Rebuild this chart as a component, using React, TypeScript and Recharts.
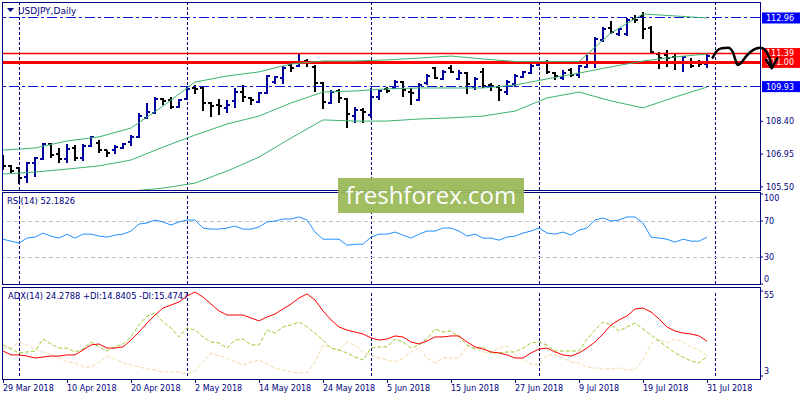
import React from "react";
import { ComposedChart, Bar, Line, XAxis, YAxis, ReferenceLine } from "recharts";

const NAVY = "#000080";
const FONT = "DejaVu Sans, sans-serif";
const UP = "#00009c";
const DOWN = "#000000";
const X_MAX = 94.625; // bar slots up to the price scale
const PRICE_MIN = 105.366;
const PRICE_MAX = 113.666;

// daily OHLC, USDJPY, 29 Mar 2018 .. 31 Jul 2018
const opens = [
  106.82, 106.43, 106.34, 105.94, 106.56, 106.73, 107.4, 106.96, 106.73, 107.22,
  106.78, 107.31, 107.44, 107.13, 107.13, 107.22, 107.49, 107.71, 108.55, 108.77,
  109.38, 109.34, 109.03, 109.38, 109.87, 109.87, 109.21, 109.12, 108.99, 109.3,
  109.69, 109.43, 109.25, 109.65, 110.13, 110.31, 110.88, 110.84, 111.06, 110.8,
  110.09, 109.21, 109.74, 109.38, 108.63, 108.9, 108.68, 109.47, 109.83, 109.87,
  110.13, 109.69, 109.34, 110.09, 110.75, 110.27, 110.75, 110.27, 110.53, 109.91,
  110.58, 110.0, 109.91, 109.69, 110.05, 110.36, 110.53, 110.88, 110.97, 110.53,
  110.31, 110.66, 110.44, 110.8, 110.97, 111.99, 112.52, 112.25, 112.25, 112.92,
  113.05, 112.52, 111.37, 111.33, 111.24, 110.97, 111.02, 111.02, 110.93,
];
const highs = [
  106.91, 106.47, 106.38, 106.6, 106.82, 107.44, 107.44, 107.22, 107.4, 107.35,
  107.4, 107.75, 107.57, 107.13, 107.35, 107.44, 107.79, 108.77, 109.21, 109.47,
  109.43, 109.47, 109.38, 109.96, 110.0, 109.92, 109.25, 109.38, 109.34, 109.87,
  110.0, 109.47, 109.69, 110.44, 110.4, 110.84, 110.93, 111.37, 111.15, 110.88,
  110.13, 109.78, 109.83, 109.43, 109.03, 108.99, 109.87, 109.78, 109.91, 110.22,
  110.18, 109.87, 110.09, 110.49, 110.8, 110.66, 110.88, 110.66, 110.58, 110.36,
  110.75, 110.09, 110.0, 110.22, 110.49, 110.62, 110.93, 111.02, 111.11, 110.58,
  110.66, 110.75, 110.88, 111.33, 112.12, 112.56, 112.83, 112.52, 112.96, 113.09,
  113.22, 112.61, 111.46, 111.55, 111.37, 111.28, 111.19, 111.11, 111.41,
];
const lows = [
  106.25, 106.12, 105.63, 105.67, 105.94, 106.69, 106.78, 106.56, 106.56, 106.65,
  106.65, 107.26, 107.0, 106.82, 106.96, 107.18, 107.31, 107.66, 108.5, 108.72,
  109.12, 108.94, 108.99, 109.34, 109.6, 108.85, 108.59, 108.68, 108.77, 108.99,
  109.25, 109.12, 109.21, 109.6, 110.05, 110.05, 110.58, 110.8, 110.8, 109.69,
  108.94, 109.16, 109.21, 108.1, 108.32, 108.32, 108.55, 109.34, 109.65, 109.83,
  109.47, 109.12, 109.3, 110.0, 110.27, 110.22, 110.53, 110.22, 109.6, 109.78,
  109.87, 109.74, 109.3, 109.56, 109.91, 110.31, 110.49, 110.84, 110.49, 110.22,
  110.22, 110.36, 110.31, 110.75, 110.75, 111.9, 112.25, 112.17, 112.17, 112.74,
  112.03, 111.41, 110.71, 110.8, 110.66, 110.58, 110.75, 110.8, 110.75,
];
const closes = [
  106.43, 106.2, 105.9, 106.56, 106.78, 107.4, 106.91, 106.73, 107.18, 106.78,
  107.31, 107.71, 107.13, 107.0, 107.26, 107.4, 107.71, 108.63, 108.81, 109.4,
  109.3, 109.03, 109.34, 109.83, 109.83, 109.21, 109.07, 109.07, 109.12, 109.69,
  109.47, 109.34, 109.65, 110.4, 110.36, 110.75, 110.75, 111.02, 110.97, 110.09,
  109.25, 109.69, 109.43, 108.72, 108.9, 108.81, 109.47, 109.74, 109.74, 110.13,
  109.78, 109.65, 110.0, 110.4, 110.31, 110.58, 110.58, 110.53, 110.05, 110.27,
  109.96, 109.96, 109.78, 110.13, 110.4, 110.58, 110.84, 110.97, 110.58, 110.4,
  110.53, 110.44, 110.84, 110.97, 112.03, 112.47, 112.34, 112.47, 112.87, 112.87,
  112.47, 111.46, 111.19, 111.19, 111.02, 111.24, 110.84, 110.93, 111.28,
];

// Bollinger bands, read every 4th bar
const bandStep = 4;
const bbUpper = [
  107.13, 107.22, 107.53, 107.71, 108.1, 109.07, 110.13, 110.4, 110.58, 110.93, 111.06, 111.06,
  111.11, 111.19, 111.28, 111.15, 111.04, 111.04, 111.04, 112.3, 113.14, 113.05, 112.96,
];
const bbMiddle = [
  106.07, 106.16, 106.29, 106.43, 106.69, 107.26, 107.79, 108.28, 108.63, 109.21, 109.69, 109.74,
  109.83, 109.87, 109.87, 109.87, 110.0, 110.27, 110.53, 110.8, 111.06, 111.24, 111.37,
];
const bbLower = [
  null, null, null, 105.06, 105.32, 105.45, 105.67, 106.2, 106.82, 107.66, 108.46, 108.41,
  108.41, 108.5, 108.55, 108.63, 108.85, 109.43, 109.69, 109.3, 108.99, 109.47, 109.91,
];

const rsi = [
  49.8, 47.6, 45.4, 51.0, 52.1, 56.6, 53.2, 51.0, 55.4, 51.0,
  55.4, 55.4, 53.2, 52.1, 54.3, 55.4, 58.8, 66.6, 67.8, 71.1,
  68.9, 65.5, 68.9, 71.1, 71.1, 62.2, 61.0, 61.0, 62.2, 64.4,
  61.0, 61.0, 63.3, 68.9, 70.0, 72.2, 72.2, 74.5, 71.1, 57.7,
  49.8, 49.8, 49.8, 43.1, 44.2, 44.2, 52.1, 55.4, 55.4, 57.7,
  54.3, 51.0, 55.4, 58.8, 58.8, 62.2, 62.2, 58.8, 53.2, 55.4,
  51.0, 51.0, 48.7, 52.1, 53.2, 56.6, 58.8, 62.2, 56.6, 55.4,
  57.7, 54.3, 59.9, 62.2, 71.1, 73.4, 70.0, 71.1, 74.5, 74.5,
  67.8, 52.1, 51.0, 49.8, 46.5, 49.8, 47.6, 47.6, 52.18,
];
const adx = [
  18.3, 15.9, 15.9, 15.2, 14.0, 14.6, 15.2, 15.2, 15.9, 15.9,
  18.9, 22.0, 22.6, 20.1, 20.1, 20.8, 25.0, 29.9, 35.4, 40.3,
  44.6, 46.4, 48.3, 51.9, 54.4, 51.3, 47.0, 42.8, 40.3, 40.3,
  40.3, 38.5, 36.7, 39.1, 40.9, 44.0, 47.0, 50.7, 53.2, 49.5,
  42.8, 37.3, 33.0, 31.1, 29.9, 28.7, 26.3, 25.0, 25.6, 27.5,
  26.9, 23.8, 22.6, 24.4, 26.9, 26.9, 27.5, 27.5, 23.8, 20.8,
  19.5, 17.7, 17.1, 15.9, 14.0, 14.0, 17.1, 19.5, 20.1, 17.7,
  15.9, 15.2, 17.1, 20.1, 23.8, 28.7, 34.2, 37.3, 39.7, 44.0,
  44.6, 42.2, 37.9, 33.0, 30.5, 29.3, 28.7, 27.5, 24.28,
];
const plusDi = [
  22.0, 19.5, 17.1, 17.7, 18.3, 25.6, 22.6, 20.1, 20.1, 17.7,
  19.5, 23.8, 20.8, 18.3, 20.8, 22.6, 26.9, 34.2, 39.7, 41.5,
  36.0, 32.4, 26.9, 32.4, 31.1, 26.9, 23.8, 23.2, 20.1, 25.0,
  25.6, 22.0, 22.0, 31.1, 29.3, 33.0, 34.2, 36.0, 33.0, 29.3,
  25.0, 20.1, 18.9, 17.1, 14.6, 12.8, 20.1, 20.8, 20.8, 25.6,
  23.8, 20.1, 22.0, 25.6, 31.8, 29.9, 30.5, 26.9, 22.0, 19.5,
  20.8, 17.1, 17.1, 17.7, 17.7, 20.1, 23.2, 23.8, 22.0, 18.3,
  18.3, 18.3, 18.3, 25.6, 31.1, 36.0, 34.2, 30.5, 33.0, 35.4,
  31.8, 28.1, 24.4, 20.8, 17.1, 14.6, 12.2, 11.0, 14.84,
];
const minusDi = [
  20.1, 20.1, 23.8, 22.0, 19.5, 17.7, 15.9, 14.0, 11.6, 11.0,
  8.5, 8.5, 11.6, 15.2, 13.4, 11.0, 9.7, 8.5, 7.3, 6.7,
  5.5, 5.5, 5.5, 4.2, 6.1, 11.6, 17.1, 15.2, 14.0, 11.6,
  9.7, 11.6, 12.8, 10.4, 7.9, 6.7, 5.5, 4.9, 4.9, 11.6,
  22.0, 20.1, 18.9, 23.8, 22.0, 17.7, 15.9, 14.0, 12.8, 11.6,
  14.0, 17.7, 20.1, 14.0, 11.0, 14.0, 14.0, 14.0, 21.4, 20.1,
  17.7, 17.1, 20.1, 21.4, 15.9, 12.8, 10.4, 9.7, 15.9, 15.9,
  14.0, 11.6, 11.0, 8.5, 7.9, 7.3, 7.3, 7.9, 6.7, 6.7,
  12.8, 22.6, 25.6, 23.2, 25.6, 23.8, 20.8, 18.9, 15.47,
];

// bottom axis
const tickBars = [0, 8, 16, 24, 32, 40, 48, 56, 64, 72, 80, 88];
const tickLabels = [
  "29 Mar 2018", "10 Apr 2018", "20 Apr 2018", "2 May 2018", "14 May 2018", "24 May 2018",
  "5 Jun 2018", "15 Jun 2018", "27 Jun 2018", "9 Jul 2018", "19 Jul 2018", "31 Jul 2018",
];
// first bar of each month (period separators)
const monthStarts = [2, 23, 46, 67, 89];

const priceTicks = [105.5, 106.95, 108.4];
const priceTags = [
  { value: 109.93, bg: "#0000ff" },
  { value: 111.39, bg: "#ff0000" },
  { value: 111.0, bg: "#ff0000" },
  { value: 112.96, bg: "#0000ff" },
];

// hand drawn forecast stroke
const sketchBars = [88.71, 89.21, 89.84, 90.66, 91.21, 91.63, 91.79, 92.21, 92.96, 93.79, 94.63, 95.25, 95.75, 96.09];
const sketchPrices = [111.21, 111.5, 111.62, 111.65, 111.47, 111.03, 110.89, 110.96, 111.3, 111.55, 111.65, 111.55, 111.25, 110.81];
const arrowBars = [95.38, 96.09, 96.79];
const arrowPrices = [111.11, 110.74, 111.18];

const rows = opens.map((o, i) => {
  const k = i % bandStep === 0 ? i / bandStep : -1;
  return {
    i,
    o,
    h: highs[i],
    l: lows[i],
    c: closes[i],
    range: [lows[i], highs[i]],
    upper: k >= 0 ? bbUpper[k] : null,
    middle: k >= 0 ? bbMiddle[k] : null,
    lower: k >= 0 ? bbLower[k] : null,
    rsi: rsi[i],
    adx: adx[i],
    pdi: plusDi[i],
    mdi: minusDi[i],
  };
});
const sketch = sketchBars.map((i, n) => ({ i, p: sketchPrices[n] }));
const arrow = arrowBars.map((i, n) => ({ i, p: arrowPrices[n] }));

function OhlcBar(props: any) {
  const { x, y, width, height, payload } = props;
  if (x == null || payload == null) return null;
  const cx = Math.round(x + width / 2);
  const { o, h, l, c } = payload;
  const span = h - l || 1;
  const py = (v: number) => Math.round(y + ((h - v) / span) * height);
  const color = c >= o ? UP : DOWN;
  return (
    <g stroke={color} strokeWidth={2} shapeRendering="crispEdges">
      <line x1={cx} x2={cx} y1={Math.round(y)} y2={Math.round(y + height)} />
      <line x1={cx - 3} x2={cx} y1={py(o)} y2={py(o)} />
      <line x1={cx} x2={cx + 3} y1={py(c)} y2={py(c)} />
    </g>
  );
}

function PriceTick(props: any) {
  const { x, y, payload } = props;
  const tag = priceTags.find((t) => t.value === payload.value);
  if (tag) {
    return (
      <g>
        <rect x={x + 2} y={y - 5.5} width={40} height={11} fill={tag.bg} />
        <text x={x + 6} y={y} dy="0.36em" fill="#fff" fontSize={8} fontFamily={FONT}>
          {tag.value.toFixed(2)}
        </text>
      </g>
    );
  }
  return (
    <g>
      <line x1={x} x2={x + 3} y1={y} y2={y} stroke={NAVY} />
      <text x={x + 6} y={y} dy="0.36em" fill={NAVY} fontSize={8} fontFamily={FONT}>
        {payload.value.toFixed(2)}
      </text>
    </g>
  );
}

function EdgeTick(props: any) {
  const { x, y, payload, top, bottom } = props;
  let dy = 0;
  if (payload.value === top) dy = 4;
  if (payload.value === bottom) dy = -5;
  return (
    <g>
      <line x1={x} x2={x + 3} y1={y} y2={y} stroke={NAVY} />
      <text x={x + 4} y={y + dy} dy="0.36em" fill={NAVY} fontSize={8} fontFamily={FONT}>
        {payload.value}
      </text>
    </g>
  );
}

function DateTick(props: any) {
  const { x, y, payload } = props;
  const label = tickLabels[tickBars.indexOf(payload.value)];
  return (
    <g>
      <line x1={x + 0.5} x2={x + 0.5} y1={y + 3} y2={y + 7} stroke={NAVY} />
      <text x={x} y={y + 15} fill={NAVY} fontSize={8} fontFamily={FONT}>
        {label}
      </text>
    </g>
  );
}

const separators = monthStarts.map((m) => (
  <ReferenceLine key={m} x={m} stroke={NAVY} strokeDasharray="3 2" shapeRendering="crispEdges" />
));

const frame = (top: number, height: number): React.CSSProperties => ({
  position: "absolute",
  left: 2,
  top,
  width: 759,
  height,
  boxSizing: "border-box",
  border: `1px solid ${NAVY}`,
  pointerEvents: "none",
});

const label = (left: number, top: number, size: number): React.CSSProperties => ({
  position: "absolute",
  left,
  top,
  fontFamily: FONT,
  fontSize: size,
  color: NAVY,
  whiteSpace: "nowrap",
  lineHeight: "12px",
});

export default function App() {
  return (
    <div style={{ position: "absolute", left: 0, top: 0, width: 800, height: 400, background: "#fff", overflow: "hidden" }}>
      {/* price panel */}
      <div style={{ position: "absolute", left: 0, top: 0 }}>
        <ComposedChart width={800} height={192} data={rows} margin={{ top: 2, right: 0, bottom: 2, left: 3 }}>
          <XAxis dataKey="i" type="number" domain={[0, X_MAX]} allowDataOverflow hide />
          <YAxis
            orientation="right"
            width={40}
            type="number"
            domain={[PRICE_MIN, PRICE_MAX]}
            allowDataOverflow
            ticks={[...priceTicks, ...priceTags.map((t) => t.value)]}
            interval={0}
            axisLine={false}
            tickLine={false}
            tickSize={0}
            tickMargin={0}
            tick={<PriceTick />}
          />
          {separators}
          <Bar dataKey="range" barSize={6} shape={<OhlcBar />} isAnimationActive={false} />
          <ReferenceLine y={112.96} stroke="#1010d0" strokeDasharray="10 3 3 3" shapeRendering="crispEdges" />
          <ReferenceLine y={109.93} stroke="#1010d0" strokeDasharray="10 3 3 3" shapeRendering="crispEdges" />
          <ReferenceLine y={111.39} stroke="#ff0000" strokeWidth={1.6} />
          <ReferenceLine y={111.0} stroke="#ff0000" strokeWidth={3} shapeRendering="crispEdges" />
          <Line dataKey="upper" stroke="#3cb371" strokeWidth={1} dot={false} connectNulls isAnimationActive={false} />
          <Line dataKey="middle" stroke="#3cb371" strokeWidth={1} dot={false} connectNulls isAnimationActive={false} />
          <Line dataKey="lower" stroke="#3cb371" strokeWidth={1} dot={false} connectNulls isAnimationActive={false} />
        </ComposedChart>
      </div>

      {/* RSI panel */}
      <div style={{ position: "absolute", left: 0, top: 192 }}>
        <ComposedChart width={800} height={93} data={rows} margin={{ top: 2, right: 0, bottom: 1, left: 3 }}>
          <XAxis dataKey="i" type="number" domain={[0, X_MAX]} allowDataOverflow hide />
          <YAxis
            orientation="right"
            width={40}
            type="number"
            domain={[0, 100]}
            ticks={[0, 30, 70, 100]}
            interval={0}
            axisLine={false}
            tickLine={false}
            tickSize={0}
            tickMargin={0}
            tick={<EdgeTick top={100} bottom={0} />}
          />
          {separators}
          <ReferenceLine y={70} stroke="#c0c0c0" strokeDasharray="4 3" shapeRendering="crispEdges" />
          <ReferenceLine y={30} stroke="#c0c0c0" strokeDasharray="4 3" shapeRendering="crispEdges" />
          <Line dataKey="rsi" stroke="#1e90ff" strokeWidth={1} dot={false} isAnimationActive={false} />
        </ComposedChart>
      </div>

      {/* ADX panel with date axis */}
      <div style={{ position: "absolute", left: 0, top: 287 }}>
        <ComposedChart width={800} height={113} data={rows} margin={{ top: 4, right: 0, bottom: 0, left: 3 }}>
          <XAxis
            dataKey="i"
            type="number"
            domain={[0, X_MAX]}
            allowDataOverflow
            ticks={tickBars}
            interval={0}
            height={24}
            axisLine={false}
            tickLine={false}
            tickSize={0}
            tickMargin={0}
            tick={<DateTick />}
          />
          <YAxis
            orientation="right"
            width={40}
            type="number"
            domain={[3, 55]}
            allowDataOverflow
            ticks={[3, 55]}
            interval={0}
            axisLine={false}
            tickLine={false}
            tickSize={0}
            tickMargin={0}
            tick={<EdgeTick top={55} bottom={3} />}
          />
          {separators}
          <Line dataKey="mdi" stroke="#f5d9a8" strokeWidth={1} strokeDasharray="4 2" dot={false} isAnimationActive={false} />
          <Line dataKey="pdi" stroke="#9acd32" strokeWidth={1} strokeDasharray="4 2" dot={false} isAnimationActive={false} />
          <Line dataKey="adx" stroke="#ff0000" strokeWidth={1} dot={false} isAnimationActive={false} />
        </ComposedChart>
      </div>

      <div style={frame(2, 189)} />
      <div style={frame(192, 93)} />
      <div style={frame(287, 93)} />

      <svg style={{ position: "absolute", left: 7, top: 8 }} width={7} height={5}>
        <polygon points="0,0 7,0 3.5,4" fill={NAVY} />
      </svg>
      <div style={label(18, 5, 9)}>USDJPY,Daily</div>
      <div style={label(7, 195, 8.4)}>RSI(14) 52.1826</div>
      <div style={label(8, 290, 8.4)}>ADX(14) 24.2788 +DI:14.8405 -DI:15.4747</div>

      <div
        style={{
          position: "absolute",
          left: 338,
          top: 178,
          width: 186,
          height: 35,
          background: "#9bbb59",
          opacity: 0.95,
          color: "#fff",
          fontFamily: "Open Sans, sans-serif",
          fontSize: 24,
          lineHeight: "33px",
          textAlign: "center",
        }}
      >
        freshforex.com
      </div>

      {/* hand drawn forecast over everything */}
      <div style={{ position: "absolute", left: 0, top: 0, pointerEvents: "none" }}>
        <ComposedChart width={800} height={192} margin={{ top: 2, right: 0, bottom: 2, left: 3 }}>
          <XAxis dataKey="i" type="number" domain={[0, 99.625]} allowDataOverflow hide />
          <YAxis type="number" domain={[PRICE_MIN, PRICE_MAX]} allowDataOverflow hide />
          <Line data={sketch} dataKey="p" type="monotone" stroke="#000" strokeWidth={2.5} strokeLinecap="round" dot={false} isAnimationActive={false} />
          <Line data={arrow} dataKey="p" type="linear" stroke="#000" strokeWidth={2.5} strokeLinecap="round" strokeLinejoin="round" dot={false} isAnimationActive={false} />
        </ComposedChart>
      </div>
    </div>
  );
}
